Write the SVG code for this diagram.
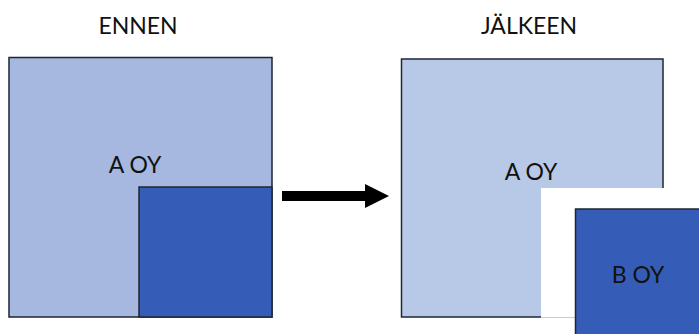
<svg xmlns="http://www.w3.org/2000/svg" width="699" height="334" viewBox="0 0 699 334">
<style>
.t{font-family:Lato,"Liberation Sans",Arial,sans-serif;font-size:23px;fill:#111;text-anchor:middle}
.b{stroke:#1e2635;stroke-width:1.5}
</style>
<rect width="699" height="334" fill="#fff"/>
<text class="t" x="138" y="34">ENNEN</text>
<text class="t" x="529" y="34">JÄLKEEN</text>
<g id="before">
<g id="a-before">
<rect class="b" x="9" y="57.5" width="263" height="259.5" fill="#a6b8df"/>
<text class="t" x="135" y="173">A OY</text>
</g>
<g id="b-before">
<rect class="b" x="139" y="187" width="133" height="130" fill="#355db7"/>
</g>
</g>
<g id="connectors">
<rect x="282" y="191" width="84" height="10" fill="#000"/>
<polygon points="365,184 389,196 365,208" fill="#000"/>
</g>
<g id="after">
<g id="a-after">
<rect class="b" x="401.5" y="59" width="261.5" height="258" fill="#b8c9e7"/>
<rect x="541" y="188" width="130" height="130" fill="#fff"/>
<line x1="541" y1="317.5" x2="575" y2="317.5" stroke="#c8ccd2" stroke-width="1"/>
<text class="t" x="531" y="180">A OY</text>
</g>
<g id="b-after">
<rect class="b" x="575.5" y="209" width="130" height="130" fill="#355db7"/>
<text class="t" x="638" y="283">B OY</text>
</g>
</g>
</svg>
